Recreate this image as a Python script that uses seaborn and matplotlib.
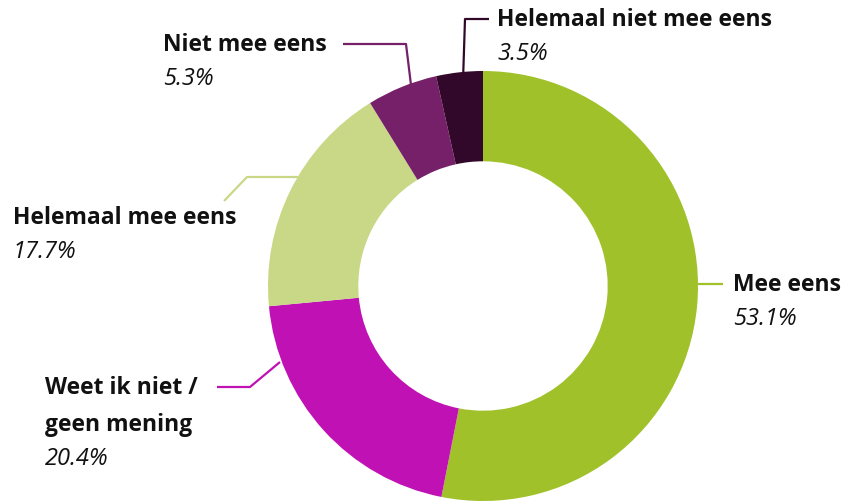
import matplotlib
matplotlib.use("Agg")
import matplotlib.pyplot as plt
import seaborn as sns

# -------------------------------
# Data
# -------------------------------
categories = ["Mee eens", "Weet ik niet /\ngeen mening", "Helemaal mee eens",
              "Niet mee eens", "Helemaal niet mee eens"]
shares = [53.1, 20.4, 17.7, 5.3, 3.5]
colors = ["#a0c12a", "#c012b4", "#c8d886", "#76206a", "#32082a"]

# label layout (pixel coords, y from top): text anchor + leader path
label_xy = [(733, 285), (45, 388), (13, 218), (163, 45), (497, 20)]
leader_paths = [
    [(698, 285), (723, 285)],
    [(280, 363), (250, 388), (217, 388)],
    [(298, 178), (247, 178), (224, 202)],
    [(411, 86), (406, 45), (343, 45)],
    [(463, 82), (465, 20), (489, 20)],
]

W, H = 848, 502
sns.set_theme(style="white")
plt.rcParams["font.family"] = ["Open Sans", "DejaVu Sans"]

fig = plt.figure(figsize=(W / 100, H / 100), dpi=100)
ax = fig.add_axes([0, 0, 1, 1])

cx, cy, r = 483, H - 287, 215
ax.pie(shares, colors=colors, startangle=90, counterclock=False,
       center=(cx, cy), radius=r, frame=True,
       wedgeprops=dict(width=r * 0.42, linewidth=0))
ax.set_xlim(0, W)
ax.set_ylim(0, H)
ax.set_aspect("equal")
ax.axis("off")

line_gap = 34
for cat, val, col, (tx, ty), path in zip(categories, shares, colors,
                                         label_xy, leader_paths):
    xs = [p[0] for p in path]
    ys = [H - p[1] for p in path]
    ax.plot(xs, ys, color=col, lw=1.6, solid_capstyle="butt")
    lines = cat.split("\n")
    for i, ln in enumerate(lines):
        ax.text(tx, H - ty - i * 37, ln, fontsize=16.5, fontweight="bold",
                color="#111111", ha="left", va="center")
    ax.text(tx, H - ty - (len(lines) - 1) * 37 - line_gap,
            f"{val:.1f}%", fontsize=17, style="italic",
            color="#111111", ha="left", va="center")

fig.savefig("out.png", dpi=100)
plt.close(fig)
